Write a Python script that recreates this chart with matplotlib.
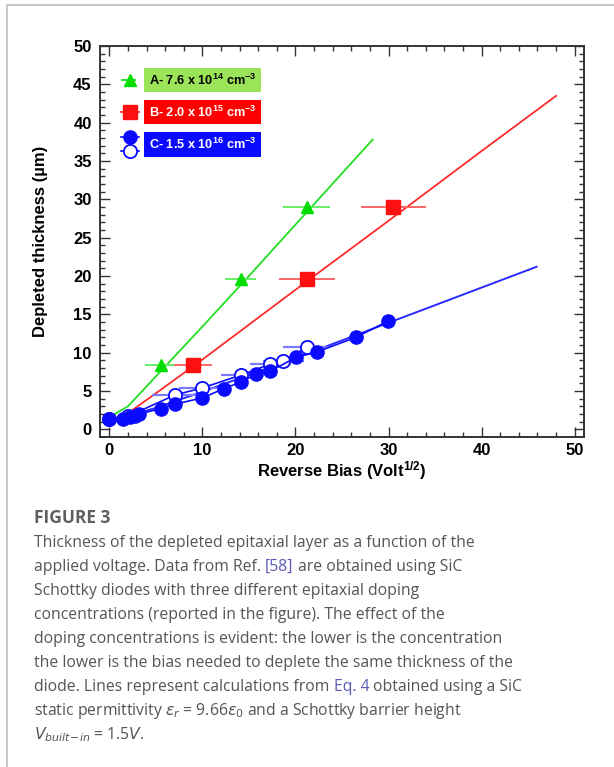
import matplotlib
matplotlib.use("Agg")
import matplotlib.pyplot as plt
from matplotlib.lines import Line2D
from matplotlib.legend_handler import HandlerBase

plt.rcParams['mathtext.fontset'] = 'custom'
plt.rcParams['mathtext.rm'] = 'Liberation Sans:bold'
plt.rcParams['mathtext.bf'] = 'Liberation Sans:bold'
plt.rcParams['mathtext.it'] = 'Liberation Sans:bold:italic'

# ---------------- data ----------------
A_x = [5.5, 14.1, 21.2]
A_y = [8.4, 19.6, 29.0]
A_xerr = [1.7, 1.7, 2.5]

B_x = [9.0, 21.2, 30.5]
B_y = [8.4, 19.6, 29.0]
B_xerr = [2.0, 3.0, 3.5]

C_fill_x = [0.0, 1.5, 2.2, 2.8, 3.2, 5.5, 7.1, 10.0, 12.3, 14.2, 15.8, 17.3, 20.1, 22.3, 26.5, 29.9]
C_fill_y = [1.3, 1.4, 1.6, 1.8, 2.0, 2.7, 3.3, 4.1, 5.3, 6.2, 7.2, 7.6, 9.4, 10.1, 12.0, 14.1]

C_open_x = [0.0, 2.0, 7.1, 10.0, 14.2, 17.3, 18.7, 21.2]
C_open_y = [1.3, 1.7, 4.5, 5.4, 7.1, 8.5, 8.9, 10.7]
C_open_xerr = [0.0, 0.0, 2.5, 2.5, 2.2, 2.2, 2.2, 2.5]

A_line_x = [0, 2, 5, 10, 15, 20, 28.3]
A_line_y = [1.6, 3.0, 6.9, 13.4, 20.0, 26.7, 37.8]
B_line_x = [0, 2, 5, 10, 20, 30, 40, 48]
B_line_y = [1.1, 2.1, 4.7, 9.1, 18.2, 27.2, 36.3, 43.5]
C_line_x = [0, 5, 10, 20, 30, 45.9]
C_line_y = [1.0, 2.8, 4.9, 9.3, 13.9, 21.2]

labels = [r"A- 7.6 x 10$^{14}$ cm$^{-3}$",
          r"B- 2.0 x 10$^{15}$ cm$^{-3}$",
          r"C- 1.5 x 10$^{16}$ cm$^{-3}$"]

x_ticks = [0, 10, 20, 30, 40, 50]
y_ticks = [0, 5, 10, 15, 20, 25, 30, 35, 40, 45, 50]

GREEN = '#00dd00'
RED = '#ff1010'
BLUE = '#0a0aff'

fig = plt.figure(figsize=(6.14, 7.67), dpi=100)
ax = fig.add_axes([100/614, 1-437/767, 484/614, 391/767])

# theory lines
ax.plot(A_line_x, A_line_y, color='#22dd22', lw=1.3, zorder=2)
ax.plot(B_line_x, B_line_y, color='#ff2a2a', lw=1.3, zorder=2)
ax.plot(C_line_x, C_line_y, color='#2a2aff', lw=1.4, zorder=2)

# data
ax.errorbar(A_x, A_y, xerr=A_xerr, fmt='^', color=GREEN, ecolor='#66ee66',
            elinewidth=1.4, capsize=0, markersize=9, zorder=4)
ax.errorbar(B_x, B_y, xerr=B_xerr, fmt='s', color=RED, ecolor='#ff6666',
            elinewidth=1.4, capsize=0, markersize=9.5, zorder=4)
ax.errorbar(C_open_x, C_open_y, xerr=C_open_xerr, fmt='-o', color=BLUE, ecolor='#7a7aff',
            mfc='white', mec=BLUE, mew=1.3, lw=1.2, elinewidth=1.6, capsize=0,
            markersize=9.5, zorder=3)
ax.plot(C_fill_x, C_fill_y, '-o', color=BLUE, lw=1.2, markersize=9.5, zorder=5)

ax.set_xlim(-1, 51)
ax.set_ylim(-1, 50)
ax.set_xticks(x_ticks)
ax.set_yticks(y_ticks)
ax.set_xticks(range(0, 51, 2), minor=True)
ax.set_yticks(range(0, 51, 1), minor=True)
ax.tick_params(which='both', direction='in', top=True, right=True, color='#333333', width=1)
ax.tick_params(which='major', length=7, labelsize=12)
ax.tick_params(axis='x', which='major', pad=4)
ax.tick_params(axis='y', which='major', pad=6)
ax.tick_params(which='minor', length=3.5)
for lab in ax.get_xticklabels() + ax.get_yticklabels():
    lab.set_fontfamily('Liberation Sans')
    lab.set_fontweight('bold')
for sp in ax.spines.values():
    sp.set_color('#333333')
    sp.set_linewidth(1.4)

ax.set_xlabel(r"Reverse Bias (Volt$^{1/2}$)", fontsize=12, fontweight='bold',
              family='Liberation Sans', labelpad=1)
ax.set_ylabel(u"Depleted thickness (\u00b5m)", fontsize=12, fontweight='bold',
              family='Liberation Sans', labelpad=18)


# legend
class VPairHandler(HandlerBase):
    def create_artists(self, legend, orig_handle, xdescent, ydescent, width,
                       height, fontsize, trans):
        arts = []
        cy = height / 2 - ydescent
        for h, off in zip(orig_handle, (0.8 * height, -0.75 * height)):
            ln = Line2D([-xdescent, width / 2 - xdescent, width - xdescent],
                        [cy + off] * 3, markevery=[1])
            ln.update_from(h)
            ln.set_transform(trans)
            arts.append(ln)
        return arts


hA = Line2D([], [], color=GREEN, marker='^', markersize=9, lw=1.2, ls='--')
hB = Line2D([], [], color=RED, marker='s', markersize=9.5, lw=1.2)
hC1 = Line2D([], [], color=BLUE, marker='o', markersize=9.5, lw=1.2)
hC2 = Line2D([], [], color=BLUE, marker='o', markersize=9.5, lw=1.2, mfc='white', mew=1.3)
leg = ax.legend([hA, hB, (hC1, hC2)], labels, loc='upper left',
                bbox_to_anchor=(0.02, 0.962), frameon=False,
                handler_map={tuple: VPairHandler()},
                prop={'family': 'Liberation Sans', 'weight': 'bold', 'size': 9.2},
                handlelength=1.4, handletextpad=0.75, labelspacing=1.32)
box_cols = ['#9be45a', '#ff0000', '#0a0aff']
txt_cols = ['black', 'white', 'white']
for t, bc, tc in zip(leg.get_texts(), box_cols, txt_cols):
    t.set_color(tc)
    t.set_bbox(dict(facecolor=bc, edgecolor='none', boxstyle='square,pad=0.38'))

# page border
fig.add_artist(Line2D([7/614, 7/614], [0, 1-5/767], color='#c8c8c8', lw=1.5))
fig.add_artist(Line2D([7/614, 1], [1-5/767, 1-5/767], color='#c8c8c8', lw=1.5))

# caption
renderer = fig.canvas.get_renderer()
CAP_FONT = 'Open Sans'
CAP_SIZE = 11.3
CAP_COL = '#555555'
LINK_COL = '#5a5ab4'

fig.text(34/614, 1-518/767, "FIGURE 3", fontsize=12.5, fontweight='bold',
         family=CAP_FONT, color='#5f5f5f', va='center')


def width_px(s, **kw):
    t = fig.text(0, 0, s, **kw)
    w = t.get_window_extent(renderer).width
    t.remove()
    return w


cap_kw = dict(fontsize=CAP_SIZE, family=CAP_FONT, math_fontfamily='dejavusans')
space_w = width_px("a a", **cap_kw) - width_px("aa", **cap_kw)

caption_lines = [
    [("Thickness of the depleted epitaxial layer as a function of the", CAP_COL)],
    [("applied voltage. Data from Ref.", CAP_COL), ("[58]", LINK_COL), ("are obtained using SiC", CAP_COL)],
    [("Schottky diodes with three different epitaxial doping", CAP_COL)],
    [("concentrations (reported in the figure). The effect of the", CAP_COL)],
    [("doping concentrations is evident: the lower is the concentration", CAP_COL)],
    [("the lower is the bias needed to deplete the same thickness of the", CAP_COL)],
    [("diode. Lines represent calculations from", CAP_COL), ("Eq. 4", LINK_COL), ("obtained using a SiC", CAP_COL)],
    [(r"static permittivity $\epsilon_r$ = 9.66$\epsilon_0$ and a Schottky barrier height", CAP_COL)],
    [(r"$V_{built\!-\!in}$ = 1.5$V$.", CAP_COL)],
]
y0 = 542
for i, segs in enumerate(caption_lines):
    xpx = 34
    ypx = y0 + 24 * i
    for s, col in segs:
        t = fig.text(xpx/614, 1-(ypx + 5)/767, s, color=col, va='baseline', **cap_kw)
        xpx += t.get_window_extent(renderer).width + space_w

fig.savefig("out.png", dpi=100)
